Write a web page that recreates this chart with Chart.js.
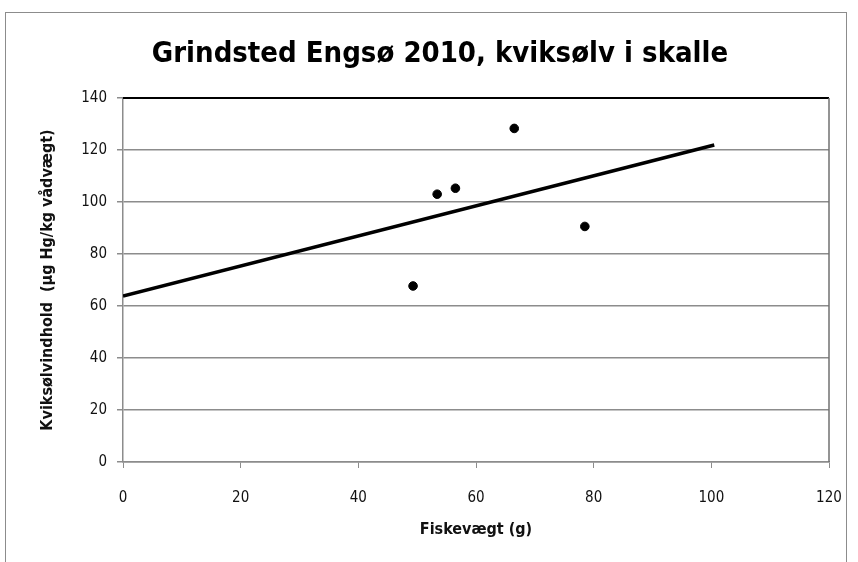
<!DOCTYPE html>
<html>
<head>
<meta charset="utf-8">
<script src="https://cdn.jsdelivr.net/npm/chart.js@4.4.1/dist/chart.umd.min.js"></script>
<style>
  html, body { margin: 0; padding: 0; background: #fff; }
  #wrap { position: relative; width: 858px; height: 562px; }
  #frame { position: absolute; left: 5px; top: 12px; width: 842px; height: 600px; border: 1px solid #8c8c8c; box-sizing: border-box; pointer-events: none; }
  canvas { position: absolute; left: 0; top: 0; }
</style>
</head>
<body>
<div id="wrap">
  <canvas id="chart" width="858" height="562"></canvas>
  <div id="frame"></div>
</div>
<script>
// målinger
const fishWeight = [49.3, 53.4, 56.5, 66.5, 78.5];
const mercury = [67.7, 103, 105.3, 128.3, 90.6];
// lineær tendenslinje (endepunkter)
const trendX = [0, 100.5];
const trendY = [63.8, 121.9];

const xTicks = [0, 20, 40, 60, 80, 100, 120];
const yTicks = [0, 20, 40, 60, 80, 100, 120, 140];

const chartTitle = 'Grindsted Engsø 2010, kviksølv i skalle';

const FONT = "'Liberation Sans Narrow', 'DejaVu Sans Condensed', 'Liberation Sans', sans-serif";

// titel + sort top- og grå højre kant på plotområdet
const decorations = {
    id: 'decorations',
    afterDraw(chart) {
        const a = chart.chartArea;
        const c = chart.ctx;
        c.save();
        c.strokeStyle = '#000';
        c.lineWidth = 2;
        c.beginPath();
        c.moveTo(a.left, a.top);
        c.lineTo(a.right, a.top);
        c.stroke();
        c.strokeStyle = '#707070';
        c.lineWidth = 1.5;
        c.beginPath();
        c.moveTo(a.right, a.top);
        c.lineTo(a.right, a.bottom);
        c.stroke();

        c.fillStyle = '#000';
        c.font = 'bold 29px ' + FONT;
        c.textAlign = 'center';
        c.textBaseline = 'alphabetic';
        c.fillText(chartTitle, 440, 62);
        c.restore();
    }
};

const ctx = document.getElementById('chart').getContext('2d');
new Chart(ctx, {
    type: 'scatter',
    data: {
        datasets: [
            {
                label: 'Kviksølv',
                data: fishWeight.map((x, i) => ({ x: x, y: mercury[i] })),
                backgroundColor: '#000',
                borderColor: '#000',
                pointRadius: 4.3,
                pointHoverRadius: 4.3
            },
            {
                label: 'Lineær',
                type: 'line',
                data: trendX.map((x, i) => ({ x: x, y: trendY[i] })),
                borderColor: '#000',
                borderWidth: 3.5,
                pointRadius: 0,
                fill: false
            }
        ]
    },
    options: {
        responsive: false,
        animation: false,
        layout: { padding: { left: 0, right: 29, top: 98, bottom: 0 } },
        scales: {
            x: {
                type: 'linear',
                min: 0,
                max: 120,
                afterBuildTicks: s => { s.ticks = xTicks.map(v => ({ value: v })); },
                afterFit: s => { s.height = 100; s.paddingLeft = 0; s.paddingRight = 0; },
                grid: { display: true, drawOnChartArea: false, color: '#8c8c8c', tickLength: 6 },
                border: { color: '#8c8c8c', width: 1.5 },
                ticks: { color: '#111', padding: 21, font: { family: FONT, size: 15 } },
                title: {
                    display: true,
                    text: 'Fiskevægt (g)',
                    color: '#111',
                    font: { family: FONT, size: 16, weight: 'bold' },
                    padding: { top: 0, bottom: 23 }
                }
            },
            y: {
                type: 'linear',
                min: 0,
                max: 140,
                afterBuildTicks: s => { s.ticks = yTicks.map(v => ({ value: v })); },
                afterFit: s => { s.width = 123; s.paddingTop = 0; s.paddingBottom = 0; },
                grid: { color: '#8c8c8c', lineWidth: 1.5, tickLength: 6 },
                border: { color: '#8c8c8c', width: 1.5 },
                ticks: { color: '#111', padding: 10, font: { family: FONT, size: 15 } },
                title: {
                    display: true,
                    text: 'Kviksølvindhold  (µg Hg/kg vådvægt)',
                    color: '#111',
                    font: { family: FONT, size: 16, weight: 'bold' },
                    padding: { top: 38, bottom: 0 }
                }
            }
        },
        plugins: {
            legend: { display: false },
            tooltip: { enabled: false },
            title: { display: false }
        }
    },
    plugins: [decorations]
});
</script>
</body>
</html>
